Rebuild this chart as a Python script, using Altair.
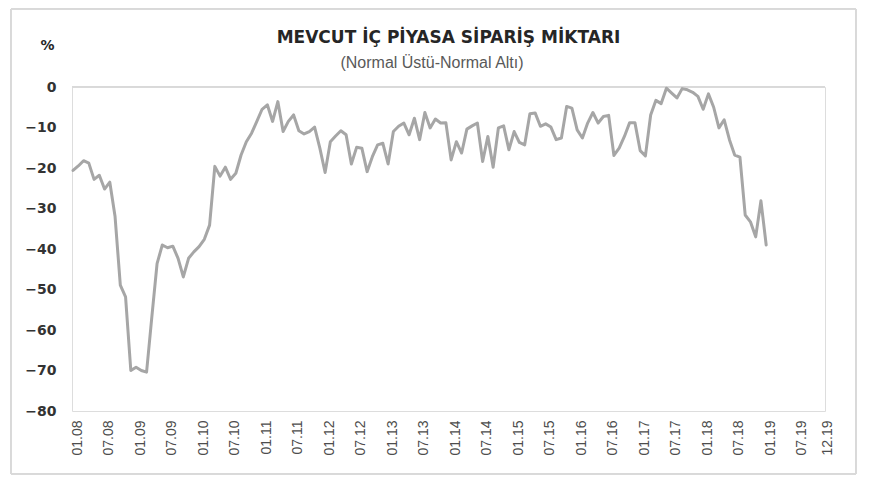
import altair as alt
import json
import pandas as pd

# Monthly values, 01.2008 .. 01.2019
values = [
    -20.6, -19.5, -18.2, -18.8, -22.8, -21.8, -25.2, -23.5, -32.0, -48.9,
    -51.8, -70.0, -69.2, -70.0, -70.4, -56.8, -43.6, -39.0, -39.7, -39.3,
    -42.3, -46.9, -42.3, -40.7, -39.4, -37.6, -34.1, -19.6, -22.0, -19.8,
    -22.8, -21.3, -16.8, -13.5, -11.4, -8.5, -5.5, -4.4, -8.5, -3.6,
    -11.0, -8.5, -6.9, -10.8, -11.6, -11.0, -9.9, -15.1, -21.1, -13.5,
    -12.1, -10.8, -11.8, -19.0, -14.9, -15.1, -20.9, -17.2, -14.3, -13.9,
    -19.0, -11.0, -9.7, -8.9, -11.8, -7.7, -13.0, -6.3, -10.1, -7.9,
    -8.9, -8.8, -18.0, -13.5, -16.3, -10.4, -9.6, -8.9, -18.4, -12.2,
    -19.8, -10.1, -9.6, -15.5, -11.0, -13.7, -14.3, -6.6, -6.4, -9.7,
    -9.1, -9.9, -13.0, -12.6, -4.8, -5.2, -10.6, -12.6, -8.9, -6.3,
    -8.9, -7.3, -7.0, -16.9, -15.1, -12.2, -8.8, -8.8, -15.7, -17.0,
    -6.9, -3.3, -4.1, -0.3, -1.5, -2.7, -0.4, -0.7, -1.3, -2.3,
    -5.5, -1.7, -5.0, -10.1, -8.1, -13.0, -16.8, -17.3, -31.6, -33.3,
    -37.0, -28.1, -39.0,
]

tick_labels = ["01.08", "07.08", "01.09", "07.09", "01.10", "07.10", "01.11",
               "07.11", "01.12", "07.12", "01.13", "07.13", "01.14", "07.14",
               "01.15", "07.15", "01.16", "07.16", "01.17", "07.17", "01.18",
               "07.18", "01.19", "07.19", "12.19"]
tick_positions = [0, 6, 12, 18, 24, 30, 36, 42, 48, 54, 60, 66, 72, 78, 84,
                  90, 96, 102, 108, 114, 120, 126, 132, 138, 143]
y_ticks = [0, -10, -20, -30, -40, -50, -60, -70, -80]

title_text = "MEVCUT İÇ PİYASA SİPARİŞ MİKTARI"
subtitle_text = "(Normal Üstü-Normal Altı)"

df = pd.DataFrame({"i": list(range(len(values))), "v": values})

# positions are every 6 months, plus the last (143) which rounds to index 24
label_expr = f"{json.dumps(tick_labels)}[round(datum.value / 6)]"

x_enc = alt.X("i:Q", scale=alt.Scale(domain=[-0.2, 143.2], nice=False, zero=False),
              axis=alt.Axis(values=tick_positions, labelExpr=label_expr, labelAngle=-90,
                            labelFont="Liberation Sans", labelFontSize=14,
                            labelColor="#4d4d4d", labelPadding=9, labelOffset=4,
                            ticks=False, domain=False, grid=False, title=None,
                            labelOverlap=False, labelBound=False, labelFlush=False))
y_enc = alt.Y("v:Q", scale=alt.Scale(domain=[-80, 0], nice=False),
              axis=alt.Axis(values=y_ticks, labelFont="DejaVu Sans", labelFontSize=14,
                            labelFontWeight="bold", labelColor="#333333", labelPadding=16,
                            ticks=False, domain=False, grid=False,
                            title="%", titleAngle=0, titleX=-25, titleY=-42,
                            titleAlign="center", titleBaseline="middle",
                            titleFont="DejaVu Sans", titleFontSize=14,
                            titleFontWeight="bold", titleColor="#262626"))

frame = alt.Chart(df).mark_rect(fill=None, stroke="#d9d9d9", strokeWidth=1).encode(
    x=alt.value(-61), x2=alt.value(784), y=alt.value(-78), y2=alt.value(387))

subtitle = alt.Chart(pd.DataFrame({"t": [subtitle_text]})).mark_text(
    font="Liberation Sans", fontSize=16, color="#595959", align="center",
    baseline="middle").encode(text="t:N", x=alt.value(360), y=alt.value(-24))

zero = alt.Chart(df).mark_rule(color="#d9d9d9", strokeWidth=1).encode(y=alt.datum(0))

line = alt.Chart(df).mark_line(color="#a6a6a6", strokeWidth=3, strokeJoin="round",
                               strokeCap="round").encode(x=x_enc, y=y_enc)

chart = alt.layer(frame, subtitle, zero, line).properties(
    width=753, height=324,
    padding={"left": 64, "top": 79, "right": 40, "bottom": 64},
    autosize=alt.AutoSizeParams(type="none"),
    title=alt.TitleParams(
        text=title_text,
        anchor="middle", frame="group", offset=0, dy=38,
        font="DejaVu Sans", fontSize=17, fontWeight="bold", color="#262626",
    ),
).configure_view(stroke=None).configure(background="white")

chart.save("out.html", embed_options={"renderer": "svg", "actions": False})
